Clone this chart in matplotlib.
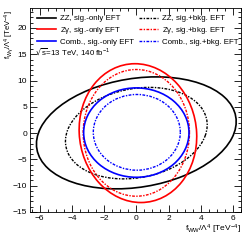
import numpy as np
import matplotlib
matplotlib.use("Agg")
import matplotlib.pyplot as plt
from matplotlib.patches import Ellipse
from matplotlib.lines import Line2D
from matplotlib.ticker import MultipleLocator

plt.rcParams["font.family"] = ["Liberation Sans", "DejaVu Sans"]
plt.rcParams["mathtext.default"] = "regular"

# contours: centre, half-range in x and y, correlation
labels = [
    "ZZ, sig.-only EFT",
    "ZZ, sig.+bkg. EFT",
    "Z$\\gamma$, sig.-only EFT",
    "Z$\\gamma$, sig.+bkg. EFT",
    "Comb., sig.-only EFT",
    "Comb., sig.+bkg. EFT",
]
center_x = [0.0, 0.0, 0.1, 0.0, 0.0, 0.03]
center_y = [0.05, 0.0, 0.0, 0.05, 0.1, 0.15]
half_x = [6.2, 4.4, 3.65, 3.3, 3.27, 2.7]
half_y = [10.65, 8.7, 13.2, 12.05, 8.5, 7.2]
corr = [0.2, 0.18, -0.05, 0.0, 0.0, 0.0]

colors = ["black", "black", "red", "red", "blue", "blue"]
styles = ["-", (0, (2, 1, 1, 1)), "-", (0, (2, 1, 1, 1)), "-", (0, (2, 1, 1, 1))]
widths = [1.2, 1.0, 1.2, 1.0, 1.2, 1.0]

fig = plt.figure(figsize=(2.49, 2.40), dpi=100)
ax = fig.add_axes([0.1205, 0.1167, 0.8475, 0.85])

for i in range(len(labels)):
    c = np.array([[half_x[i] ** 2, corr[i] * half_x[i] * half_y[i]],
                  [corr[i] * half_x[i] * half_y[i], half_y[i] ** 2]])
    vals, vecs = np.linalg.eigh(c)
    ang = np.degrees(np.arctan2(vecs[1, 1], vecs[0, 1]))
    e = Ellipse((center_x[i], center_y[i]), 2 * np.sqrt(vals[1]), 2 * np.sqrt(vals[0]),
                angle=ang, fill=False, edgecolor=colors[i], linestyle=styles[i],
                linewidth=widths[i])
    ax.add_patch(e)

ax.set_xlim(-6.6, 6.5)
ax.set_ylim(-15, 23.8)

ax.xaxis.set_major_locator(MultipleLocator(2))
ax.xaxis.set_minor_locator(MultipleLocator(0.5))
ax.yaxis.set_major_locator(MultipleLocator(5))
ax.yaxis.set_minor_locator(MultipleLocator(1))
ax.tick_params(which="both", direction="in", top=True, right=True, labelsize=6,
               width=0.6, colors="black", pad=2)
ax.tick_params(which="major", length=5)
ax.tick_params(which="minor", length=2.5)
for s in ax.spines.values():
    s.set_linewidth(0.6)

ax.set_xlabel("f$_{WW}$/$\\Lambda^{4}$ [TeV$^{-4}$]", fontsize=6, loc="right", labelpad=1)
ax.set_ylabel("f$_{W\\gamma}$/$\\Lambda^{4}$ [TeV$^{-4}$]", fontsize=5.5, loc="top")
ax.yaxis.set_label_coords(-0.068, 0.99)

# legend: sig.-only column on the left, sig.+bkg. column on the right
order = [0, 2, 4, 1, 3, 5]
handles = [Line2D([], [], color=colors[i], linestyle=styles[i], linewidth=widths[i]) for i in order]
ax.legend(handles, [labels[i] for i in order], ncol=2, frameon=False, fontsize=5.7,
          loc="upper left", bbox_to_anchor=(0.01, 0.99), handlelength=2.4,
          handletextpad=0.5, columnspacing=0.6, labelspacing=0.3, borderaxespad=0.2)

ax.text(0.025, 0.78, "$\\sqrt{s}$=13 TeV, 140 fb$^{-1}$", transform=ax.transAxes,
        fontsize=5.7, va="center", ha="left")

fig.savefig("out.png", dpi=100)
